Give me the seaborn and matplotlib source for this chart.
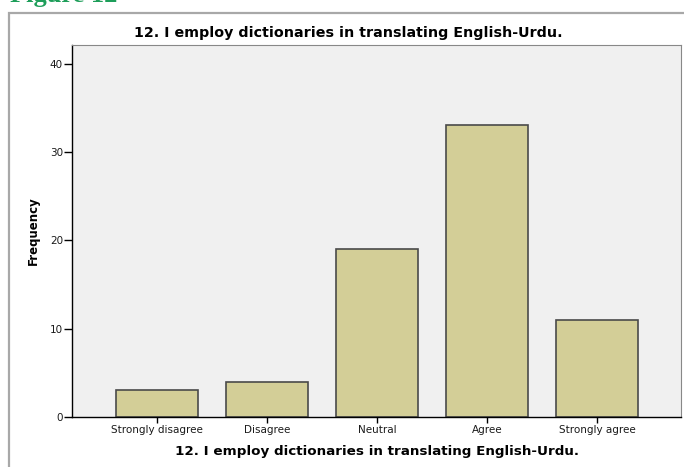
import matplotlib
matplotlib.use("Agg")
import pandas as pd
import seaborn as sns
from matplotlib import pyplot as plt
from matplotlib.patches import Rectangle

# Dados do gráfico (frequências)
categorias = ["Strongly disagree", "Disagree", "Neutral", "Agree", "Strongly agree"]
frequencias = [3, 4, 19, 33, 11]
yticks = [0, 10, 20, 30, 40]
titulo = "12. I employ dictionaries in translating English-Urdu."

df = pd.DataFrame({"resposta": categorias, "freq": frequencias})

sns.set_style("white")
plt.rcParams["font.family"] = ["DejaVu Sans"]
plt.rcParams["text.color"] = "black"
plt.rcParams["axes.labelcolor"] = "black"

fig = plt.figure(figsize=(6.84, 4.67), dpi=100)
ax = fig.add_axes([0.1053, 0.1071, 0.8903, 0.7965])
ax.set_facecolor("#f0f0f0")

sns.barplot(data=df, x="resposta", y="freq", color="#d3ce97", width=0.745,
            edgecolor="#4a4a4a", linewidth=1.2, saturation=1, ax=ax)

ax.set_xlim(-0.773, 4.76)
ax.set_ylim(0, 42.1)
ax.set_yticks(yticks)
ax.tick_params(axis="both", labelsize=7.5, width=1, color="black",
               labelcolor="#1a1a1a", direction="out", bottom=True, left=True)
ax.tick_params(axis="y", length=5.5, pad=1)
ax.tick_params(axis="x", length=4, pad=1.5)
for lado in ["top", "right"]:
    ax.spines[lado].set_color("#888888")
    ax.spines[lado].set_linewidth(0.8)
for lado in ["left", "bottom"]:
    ax.spines[lado].set_color("black")
    ax.spines[lado].set_linewidth(1)

ax.set_xlabel(titulo, fontsize=9.7, fontweight="bold", labelpad=7.5)
ax.set_ylabel("Frequency", fontsize=8.5, fontweight="bold", labelpad=7)
# título centrado no gráfico inteiro, como no SPSS
fig.text(348 / 684, 1 - 33 / 467, titulo, fontsize=10.3, fontweight="bold",
         ha="center", va="center")

# Moldura externa e legenda da figura (cortada no topo)
moldura = Rectangle((9 / 684, -0.05), 1.05, 1 - 13 / 467 + 0.05, transform=fig.transFigure,
                    fill=False, edgecolor="#a8a8a8", linewidth=1.6, clip_on=False)
fig.patches.append(moldura)
fig.text(0.014, 1 - 2 / 467, "Figure 12", fontsize=19, fontweight="bold",
         color="#1e9e5a", family="Liberation Serif", va="baseline", ha="left")

plt.savefig("out.png", dpi=100)
